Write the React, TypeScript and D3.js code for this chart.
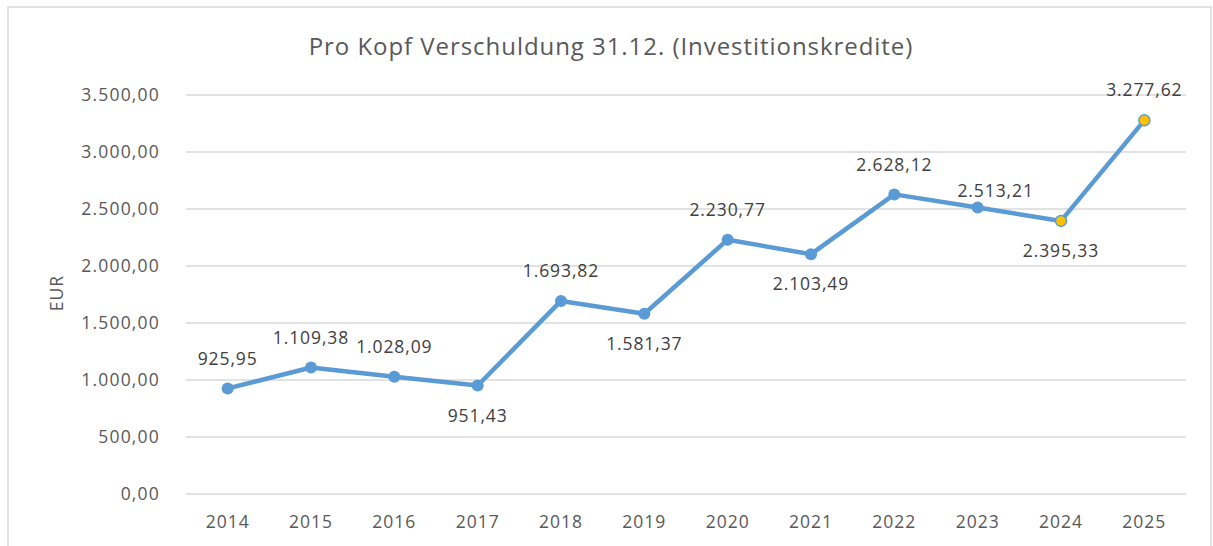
import React from "react";
import * as d3 from "d3";

// chart data
const years = ["2014", "2015", "2016", "2017", "2018", "2019", "2020", "2021", "2022", "2023", "2024", "2025"];
const values = [925.95, 1109.38, 1028.09, 951.43, 1693.82, 1581.37, 2230.77, 2103.49, 2628.12, 2513.21, 2395.33, 3277.62];
// where the value label sits relative to its point
const labelSide = ["above", "above", "above", "below", "above", "below", "above", "below", "above", "aboveRight", "below", "above"];
// years drawn with the highlighted (yellow) marker
const highlighted = ["2024", "2025"];
const yTicks = [0, 500, 1000, 1500, 2000, 2500, 3000, 3500];

const W = 1213;
const H = 546;
const FONT = "'Open Sans', 'Noto Sans', sans-serif";

// label offset from its point for each placement
const labelOffset: Record<string, [number, number]> = {
  above: [0, -30],
  below: [0, 30],
  aboveRight: [18, -17],
};

// German number format: 3.500,00
const fmt = (v: number) => {
  const [i, d] = v.toFixed(2).split(".");
  return i.replace(/\B(?=(\d{3})+(?!\d))/g, ".") + "," + d;
};

const App: React.FC = () => {
  const x = d3.scaleBand<string>().domain(years).range([186, 1186]);
  const y = d3.scaleLinear().domain([0, 3500]).range([494, 95]);
  const cx = (yr: string) => (x(yr) ?? 0) + x.bandwidth() / 2;

  const line = d3
    .line<number>()
    .x((_, i) => cx(years[i]))
    .y((d) => y(d));

  return (
    <svg
      width={W}
      height={H}
      style={{ position: "fixed", left: 0, top: 0, background: "#fff" }}
      fontFamily={FONT}
    >
      {/* chart frame */}
      <rect x={8} y={7} width={1203} height={560} fill="#fff" stroke="#d9d9d9" strokeWidth={1.5} />

      <text x={611} y={47} dy="0.35em" textAnchor="middle" fontSize={24} letterSpacing={0.95} fill="#595959">
        Pro Kopf Verschuldung 31.12. (Investitionskredite)
      </text>

      {/* gridlines and y labels */}
      {yTicks.map((t) => (
        <g key={t}>
          <line x1={186} x2={1186} y1={y(t)} y2={y(t)} stroke="#d9d9d9" strokeWidth={1.5} />
          <text x={160} y={y(t)} dy="0.35em" textAnchor="end" fontSize={17.5} letterSpacing={1.2} fill="#595959">
            {fmt(t)}
          </text>
        </g>
      ))}

      {/* x labels */}
      {years.map((yr) => (
        <text key={yr} x={cx(yr)} y={522} dy="0.35em" textAnchor="middle" fontSize={17.5} letterSpacing={1} fill="#595959">
          {yr}
        </text>
      ))}

      <text
        transform="translate(57,293) rotate(-90)"
        textAnchor="middle"
        dy="0.35em"
        fontSize={17.5}
        letterSpacing={1}
        fill="#595959"
      >
        EUR
      </text>

      <path d={line(values) ?? ""} fill="none" stroke="#5B9BD5" strokeWidth={4.5} strokeLinejoin="round" />

      {values.map((v, i) => {
        const hi = highlighted.includes(years[i]);
        return (
          <circle
            key={years[i]}
            cx={cx(years[i])}
            cy={y(v)}
            r={hi ? 5.5 : 6}
            fill={hi ? "#FFC000" : "#5B9BD5"}
            stroke="#5B9BD5"
            strokeWidth={hi ? 1.5 : 0}
          />
        );
      })}

      {values.map((v, i) => {
        const [ox, oy] = labelOffset[labelSide[i]];
        return (
          <text
            key={"l" + years[i]}
            x={cx(years[i]) + ox}
            y={y(v) + oy}
            dy="0.35em"
            textAnchor="middle"
            fontSize={17.5}
            letterSpacing={0.9}
            fill="#404040"
          >
            {fmt(v)}
          </text>
        );
      })}
    </svg>
  );
};

export default App;
